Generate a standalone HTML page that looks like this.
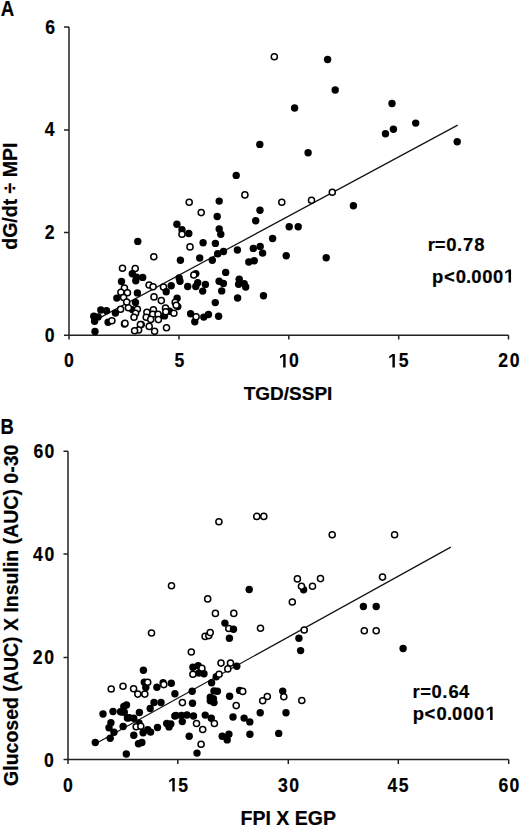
<!DOCTYPE html>
<html><head><meta charset="utf-8"><title>Figure</title><style>
html,body{margin:0;padding:0;background:#fff;}
svg{display:block;}
text{font-family:"Liberation Sans",sans-serif;font-weight:bold;fill:#000;stroke:#000;stroke-width:0.2px;}
</style></head><body>
<svg width="520" height="830" viewBox="0 0 520 830">
<rect width="520" height="830" fill="#fff"/>
<!-- Panel A -->
<text transform="translate(0.8,15.5) scale(0.83,1)" font-size="22.5">A</text>
<g stroke="#222" stroke-width="1.5" fill="none">
<path d="M69 27 V335.2 H508.5"/>
<path d="M64 27 H69 M64 130 H69 M64 232.6 H69 M64 335.2 H69"/>
<path d="M69 335.2 V339.6 M179 335.2 V339.6 M288.8 335.2 V339.6 M398.7 335.2 V339.6 M508.5 335.2 V339.6"/>
</g>
<text x="288" y="400.3" font-size="19" text-anchor="middle">TGD/SSPI</text>
<text transform="translate(17,196.2) rotate(-90)" font-size="19.5" text-anchor="middle">dG/dt ÷ MPI</text>
<path d="M95 320.4 L457.7 125.1" stroke="#111" stroke-width="1.2" fill="none"/>
<g fill="#000">
<circle cx="327.6" cy="59.5" r="3.7"/>
<circle cx="274.3" cy="56.8" r="3.05" fill="#fff" stroke="#000" stroke-width="1.5"/>
<circle cx="335.2" cy="90" r="3.7"/>
<circle cx="294.6" cy="108" r="3.7"/>
<circle cx="392" cy="103.5" r="3.7"/>
<circle cx="415.7" cy="123.1" r="3.7"/>
<circle cx="393.4" cy="129.2" r="3.7"/>
<circle cx="385.5" cy="133.8" r="3.7"/>
<circle cx="457.2" cy="141.8" r="3.7"/>
<circle cx="259.8" cy="144.4" r="3.7"/>
<circle cx="308.1" cy="152.7" r="3.7"/>
<circle cx="236.2" cy="175.4" r="3.7"/>
<circle cx="332.3" cy="192.3" r="3.05" fill="#fff" stroke="#000" stroke-width="1.5"/>
<circle cx="311.5" cy="200.3" r="3.05" fill="#fff" stroke="#000" stroke-width="1.5"/>
<circle cx="353.4" cy="205.7" r="3.7"/>
<circle cx="244.9" cy="194.9" r="3.05" fill="#fff" stroke="#000" stroke-width="1.5"/>
<circle cx="189.2" cy="202.3" r="3.05" fill="#fff" stroke="#000" stroke-width="1.5"/>
<circle cx="219.2" cy="201.1" r="3.7"/>
<circle cx="201.2" cy="212.6" r="3.05" fill="#fff" stroke="#000" stroke-width="1.5"/>
<circle cx="217.2" cy="216.5" r="3.7"/>
<circle cx="176.9" cy="224.2" r="3.7"/>
<circle cx="182" cy="229.7" r="3.7"/>
<circle cx="188.8" cy="233.5" r="3.7"/>
<circle cx="182" cy="234.3" r="3.05" fill="#fff" stroke="#000" stroke-width="1.5"/>
<circle cx="219.2" cy="228.9" r="3.7"/>
<circle cx="220.8" cy="234.3" r="3.7"/>
<circle cx="203.1" cy="242.8" r="3.7"/>
<circle cx="215.4" cy="243.4" r="3.7"/>
<circle cx="190" cy="246.9" r="3.05" fill="#fff" stroke="#000" stroke-width="1.5"/>
<circle cx="281.8" cy="202.3" r="3.05" fill="#fff" stroke="#000" stroke-width="1.5"/>
<circle cx="260" cy="210.3" r="3.7"/>
<circle cx="255.7" cy="220.8" r="3.7"/>
<circle cx="289.2" cy="226.8" r="3.7"/>
<circle cx="298.2" cy="226.8" r="3.7"/>
<circle cx="272.6" cy="238.5" r="3.7"/>
<circle cx="253.3" cy="248.4" r="3.7"/>
<circle cx="260.2" cy="246.5" r="3.7"/>
<circle cx="262.6" cy="253.1" r="3.7"/>
<circle cx="286.2" cy="255.7" r="3.7"/>
<circle cx="326.2" cy="257.7" r="3.7"/>
<circle cx="248.8" cy="262" r="3.7"/>
<circle cx="254.2" cy="260.8" r="3.7"/>
<circle cx="263.5" cy="295.7" r="3.7"/>
<circle cx="217.7" cy="253.8" r="3.7"/>
<circle cx="223.5" cy="251.5" r="3.7"/>
<circle cx="237.4" cy="250" r="3.7"/>
<circle cx="199.7" cy="258" r="3.7"/>
<circle cx="212.3" cy="260.3" r="3.7"/>
<circle cx="180.4" cy="260.2" r="3.7"/>
<circle cx="225.7" cy="272.4" r="3.7"/>
<circle cx="195.8" cy="273.6" r="3.7"/>
<circle cx="193.8" cy="275" r="3.05" fill="#fff" stroke="#000" stroke-width="1.5"/>
<circle cx="179.2" cy="278" r="3.7"/>
<circle cx="180" cy="281.2" r="3.7"/>
<circle cx="187.7" cy="286.5" r="3.7"/>
<circle cx="197.7" cy="282.7" r="3.7"/>
<circle cx="195.8" cy="286.5" r="3.7"/>
<circle cx="205.4" cy="284.4" r="3.7"/>
<circle cx="202.7" cy="291.1" r="3.7"/>
<circle cx="219.1" cy="281.2" r="3.7"/>
<circle cx="223.4" cy="283.4" r="3.7"/>
<circle cx="221.7" cy="290.9" r="3.7"/>
<circle cx="239.2" cy="279.3" r="3.7"/>
<circle cx="238.6" cy="284.3" r="3.7"/>
<circle cx="244.2" cy="283.6" r="3.7"/>
<circle cx="245.7" cy="287" r="3.7"/>
<circle cx="237.6" cy="298" r="3.7"/>
<circle cx="215.3" cy="302.6" r="3.7"/>
<circle cx="137.8" cy="241.4" r="3.7"/>
<circle cx="153.8" cy="256.8" r="3.05" fill="#fff" stroke="#000" stroke-width="1.5"/>
<circle cx="122.5" cy="268.3" r="3.05" fill="#fff" stroke="#000" stroke-width="1.5"/>
<circle cx="135.2" cy="268.5" r="3.05" fill="#fff" stroke="#000" stroke-width="1.5"/>
<circle cx="132.3" cy="273.7" r="3.7"/>
<circle cx="136.5" cy="277.3" r="3.7"/>
<circle cx="142.7" cy="277.4" r="3.7"/>
<circle cx="135.8" cy="280.8" r="3.7"/>
<circle cx="121.5" cy="281.5" r="3.7"/>
<circle cx="116.8" cy="298.1" r="3.7"/>
<circle cx="137.4" cy="292.9" r="3.7"/>
<circle cx="135.5" cy="302.4" r="3.7"/>
<circle cx="124.4" cy="288" r="3.05" fill="#fff" stroke="#000" stroke-width="1.5"/>
<circle cx="120.9" cy="292.2" r="3.05" fill="#fff" stroke="#000" stroke-width="1.5"/>
<circle cx="127.4" cy="292.8" r="3.05" fill="#fff" stroke="#000" stroke-width="1.5"/>
<circle cx="123.6" cy="297.5" r="3.05" fill="#fff" stroke="#000" stroke-width="1.5"/>
<circle cx="126.7" cy="302.1" r="3.05" fill="#fff" stroke="#000" stroke-width="1.5"/>
<circle cx="132.4" cy="309.6" r="3.7"/>
<circle cx="120.6" cy="309.2" r="3.05" fill="#fff" stroke="#000" stroke-width="1.5"/>
<circle cx="128.4" cy="307.8" r="3.05" fill="#fff" stroke="#000" stroke-width="1.5"/>
<circle cx="137.4" cy="309.2" r="3.05" fill="#fff" stroke="#000" stroke-width="1.5"/>
<circle cx="135.6" cy="313.2" r="3.05" fill="#fff" stroke="#000" stroke-width="1.5"/>
<circle cx="134" cy="317.2" r="3.05" fill="#fff" stroke="#000" stroke-width="1.5"/>
<circle cx="149.1" cy="285" r="3.05" fill="#fff" stroke="#000" stroke-width="1.5"/>
<circle cx="153.1" cy="286.8" r="3.05" fill="#fff" stroke="#000" stroke-width="1.5"/>
<circle cx="163.5" cy="287.1" r="3.05" fill="#fff" stroke="#000" stroke-width="1.5"/>
<circle cx="171.2" cy="285.8" r="3.7"/>
<circle cx="166.2" cy="291.7" r="3.7"/>
<circle cx="154" cy="296.9" r="3.05" fill="#fff" stroke="#000" stroke-width="1.5"/>
<circle cx="161.3" cy="300.6" r="3.05" fill="#fff" stroke="#000" stroke-width="1.5"/>
<circle cx="177.1" cy="298.2" r="3.7"/>
<circle cx="175.2" cy="302.3" r="3.05" fill="#fff" stroke="#000" stroke-width="1.5"/>
<circle cx="177.8" cy="306.6" r="3.7"/>
<circle cx="176.2" cy="305.3" r="3.05" fill="#fff" stroke="#000" stroke-width="1.5"/>
<circle cx="169.5" cy="311.2" r="3.7"/>
<circle cx="164.5" cy="315.9" r="3.7"/>
<circle cx="153.4" cy="309.8" r="3.05" fill="#fff" stroke="#000" stroke-width="1.5"/>
<circle cx="165.5" cy="308.1" r="3.05" fill="#fff" stroke="#000" stroke-width="1.5"/>
<circle cx="165.8" cy="311.8" r="3.05" fill="#fff" stroke="#000" stroke-width="1.5"/>
<circle cx="173.9" cy="313.2" r="3.05" fill="#fff" stroke="#000" stroke-width="1.5"/>
<circle cx="146.9" cy="312.2" r="3.05" fill="#fff" stroke="#000" stroke-width="1.5"/>
<circle cx="152.7" cy="314.2" r="3.05" fill="#fff" stroke="#000" stroke-width="1.5"/>
<circle cx="158.1" cy="314.2" r="3.05" fill="#fff" stroke="#000" stroke-width="1.5"/>
<circle cx="146.2" cy="317.3" r="3.05" fill="#fff" stroke="#000" stroke-width="1.5"/>
<circle cx="150.7" cy="319.4" r="3.05" fill="#fff" stroke="#000" stroke-width="1.5"/>
<circle cx="158.4" cy="319.6" r="3.05" fill="#fff" stroke="#000" stroke-width="1.5"/>
<circle cx="141.2" cy="324.6" r="3.05" fill="#fff" stroke="#000" stroke-width="1.5"/>
<circle cx="149.2" cy="326.4" r="3.05" fill="#fff" stroke="#000" stroke-width="1.5"/>
<circle cx="154.6" cy="331.2" r="3.05" fill="#fff" stroke="#000" stroke-width="1.5"/>
<circle cx="166.5" cy="327.7" r="3.05" fill="#fff" stroke="#000" stroke-width="1.5"/>
<circle cx="124.4" cy="324" r="3.7"/>
<circle cx="125" cy="323.4" r="3.05" fill="#fff" stroke="#000" stroke-width="1.5"/>
<circle cx="140.4" cy="324.6" r="3.05" fill="#fff" stroke="#000" stroke-width="1.5"/>
<circle cx="138.6" cy="330" r="3.05" fill="#fff" stroke="#000" stroke-width="1.5"/>
<circle cx="134.6" cy="330.8" r="3.05" fill="#fff" stroke="#000" stroke-width="1.5"/>
<circle cx="95" cy="331.5" r="3.7"/>
<circle cx="93.8" cy="316.2" r="3.7"/>
<circle cx="94.6" cy="321.2" r="3.7"/>
<circle cx="98.1" cy="316.9" r="3.7"/>
<circle cx="100.8" cy="310" r="3.7"/>
<circle cx="106.5" cy="310.8" r="3.7"/>
<circle cx="115.4" cy="313.1" r="3.7"/>
<circle cx="108.1" cy="322.3" r="3.7"/>
<circle cx="111.9" cy="320.8" r="3.05" fill="#fff" stroke="#000" stroke-width="1.5"/>
<circle cx="190.6" cy="313.7" r="3.7"/>
<circle cx="194.8" cy="321.7" r="3.7"/>
<circle cx="196.1" cy="316.8" r="3.05" fill="#fff" stroke="#000" stroke-width="1.5"/>
<circle cx="203.8" cy="317.1" r="3.7"/>
<circle cx="208.5" cy="314.5" r="3.7"/>
<circle cx="218.6" cy="316.3" r="3.7"/>
</g>

<!-- Panel B -->
<text transform="translate(0.6,433.8) scale(0.84,1)" font-size="22">B</text>
<g stroke="#222" stroke-width="1.5" fill="none">
<path d="M68 451.3 V759.5 H508.7"/>
<path d="M63.5 451.3 H68 M63.5 554 H68 M63.5 657.4 H68 M63.5 759.5 H68"/>
<path d="M68 759.5 V764 M177.8 759.5 V764 M288.3 759.5 V764 M398.3 759.5 V764 M508.7 759.5 V764"/>
</g>
<text x="288.3" y="825.2" font-size="19.5" text-anchor="middle">FPI X EGP</text>
<text transform="translate(18.2,615.3) rotate(-90)" font-size="19.5" text-anchor="middle">Glucosed (AUC) X Insulin (AUC) 0-30</text>
<path d="M95 743.9 L450.8 547.1" stroke="#111" stroke-width="1.2" fill="none"/>
<g fill="#000">
<circle cx="332.2" cy="534.8" r="3.05" fill="#fff" stroke="#000" stroke-width="1.5"/>
<circle cx="394.6" cy="534.8" r="3.05" fill="#fff" stroke="#000" stroke-width="1.5"/>
<circle cx="320.5" cy="578.6" r="3.05" fill="#fff" stroke="#000" stroke-width="1.5"/>
<circle cx="312.5" cy="586.3" r="3.05" fill="#fff" stroke="#000" stroke-width="1.5"/>
<circle cx="382.5" cy="577.1" r="3.05" fill="#fff" stroke="#000" stroke-width="1.5"/>
<circle cx="363.4" cy="606.5" r="3.7"/>
<circle cx="376.2" cy="606.5" r="3.7"/>
<circle cx="364.3" cy="630.8" r="3.05" fill="#fff" stroke="#000" stroke-width="1.5"/>
<circle cx="376.2" cy="630.8" r="3.05" fill="#fff" stroke="#000" stroke-width="1.5"/>
<circle cx="403.1" cy="648.5" r="3.7"/>
<circle cx="218.9" cy="521.8" r="3.05" fill="#fff" stroke="#000" stroke-width="1.5"/>
<circle cx="256.8" cy="516.4" r="3.05" fill="#fff" stroke="#000" stroke-width="1.5"/>
<circle cx="263.8" cy="516.4" r="3.05" fill="#fff" stroke="#000" stroke-width="1.5"/>
<circle cx="171.5" cy="585.7" r="3.05" fill="#fff" stroke="#000" stroke-width="1.5"/>
<circle cx="207.7" cy="598.9" r="3.05" fill="#fff" stroke="#000" stroke-width="1.5"/>
<circle cx="215.4" cy="613.4" r="3.05" fill="#fff" stroke="#000" stroke-width="1.5"/>
<circle cx="233.8" cy="613.4" r="3.05" fill="#fff" stroke="#000" stroke-width="1.5"/>
<circle cx="224.9" cy="623.1" r="3.7"/>
<circle cx="228.8" cy="628.5" r="3.05" fill="#fff" stroke="#000" stroke-width="1.5"/>
<circle cx="233.5" cy="629.2" r="3.7"/>
<circle cx="249.2" cy="589.5" r="3.7"/>
<circle cx="297.4" cy="578.9" r="3.05" fill="#fff" stroke="#000" stroke-width="1.5"/>
<circle cx="303.6" cy="589.7" r="3.7"/>
<circle cx="301.5" cy="586.2" r="3.05" fill="#fff" stroke="#000" stroke-width="1.5"/>
<circle cx="292.3" cy="602" r="3.05" fill="#fff" stroke="#000" stroke-width="1.5"/>
<circle cx="260.5" cy="628.2" r="3.05" fill="#fff" stroke="#000" stroke-width="1.5"/>
<circle cx="304.2" cy="630" r="3.05" fill="#fff" stroke="#000" stroke-width="1.5"/>
<circle cx="151.5" cy="633" r="3.05" fill="#fff" stroke="#000" stroke-width="1.5"/>
<circle cx="143.4" cy="670.3" r="3.7"/>
<circle cx="111.2" cy="689" r="3.05" fill="#fff" stroke="#000" stroke-width="1.5"/>
<circle cx="123" cy="686.3" r="3.05" fill="#fff" stroke="#000" stroke-width="1.5"/>
<circle cx="133.6" cy="688.7" r="3.05" fill="#fff" stroke="#000" stroke-width="1.5"/>
<circle cx="137.8" cy="694.1" r="3.05" fill="#fff" stroke="#000" stroke-width="1.5"/>
<circle cx="144.8" cy="694.1" r="3.05" fill="#fff" stroke="#000" stroke-width="1.5"/>
<circle cx="144.3" cy="682.3" r="3.7"/>
<circle cx="145.8" cy="687.4" r="3.7"/>
<circle cx="147.7" cy="682.3" r="3.05" fill="#fff" stroke="#000" stroke-width="1.5"/>
<circle cx="156.9" cy="687.2" r="3.7"/>
<circle cx="163.1" cy="682.8" r="3.7"/>
<circle cx="163.8" cy="684.6" r="3.05" fill="#fff" stroke="#000" stroke-width="1.5"/>
<circle cx="171.3" cy="683.3" r="3.7"/>
<circle cx="174.9" cy="693.8" r="3.7"/>
<circle cx="154" cy="702.5" r="3.7"/>
<circle cx="161" cy="702.5" r="3.7"/>
<circle cx="150.2" cy="708.5" r="3.7"/>
<circle cx="126.5" cy="705" r="3.7"/>
<circle cx="123.8" cy="706.5" r="3.7"/>
<circle cx="122.3" cy="711.9" r="3.7"/>
<circle cx="139.4" cy="712.5" r="3.7"/>
<circle cx="129.2" cy="717.7" r="3.7"/>
<circle cx="133.8" cy="718.3" r="3.7"/>
<circle cx="103" cy="714" r="3.7"/>
<circle cx="113" cy="711.5" r="3.7"/>
<circle cx="120.5" cy="711.7" r="3.7"/>
<circle cx="124.3" cy="712.3" r="3.7"/>
<circle cx="127.4" cy="718" r="3.7"/>
<circle cx="110.9" cy="722.7" r="3.7"/>
<circle cx="109" cy="727.7" r="3.7"/>
<circle cx="114" cy="732.2" r="3.7"/>
<circle cx="110.2" cy="738.3" r="3.7"/>
<circle cx="123.1" cy="726.5" r="3.7"/>
<circle cx="95.3" cy="742.5" r="3.7"/>
<circle cx="139" cy="722.9" r="3.7"/>
<circle cx="136.2" cy="726.7" r="3.05" fill="#fff" stroke="#000" stroke-width="1.5"/>
<circle cx="140.8" cy="726.3" r="3.05" fill="#fff" stroke="#000" stroke-width="1.5"/>
<circle cx="133.8" cy="735.3" r="3.7"/>
<circle cx="143.1" cy="732.7" r="3.7"/>
<circle cx="147.7" cy="729.8" r="3.7"/>
<circle cx="150.6" cy="732.1" r="3.7"/>
<circle cx="157.5" cy="727.5" r="3.7"/>
<circle cx="166.7" cy="723.5" r="3.7"/>
<circle cx="169" cy="726.9" r="3.7"/>
<circle cx="170.8" cy="724" r="3.7"/>
<circle cx="174.8" cy="716" r="3.7"/>
<circle cx="205.1" cy="636.4" r="3.05" fill="#fff" stroke="#000" stroke-width="1.5"/>
<circle cx="208.8" cy="635.6" r="3.05" fill="#fff" stroke="#000" stroke-width="1.5"/>
<circle cx="210.2" cy="632.6" r="3.05" fill="#fff" stroke="#000" stroke-width="1.5"/>
<circle cx="229.4" cy="638.2" r="3.7"/>
<circle cx="191.3" cy="652" r="3.05" fill="#fff" stroke="#000" stroke-width="1.5"/>
<circle cx="192.9" cy="667.3" r="3.7"/>
<circle cx="198.2" cy="665.7" r="3.7"/>
<circle cx="201.9" cy="668.4" r="3.05" fill="#fff" stroke="#000" stroke-width="1.5"/>
<circle cx="198.7" cy="673.1" r="3.7"/>
<circle cx="204" cy="673.7" r="3.7"/>
<circle cx="192.9" cy="674.2" r="3.05" fill="#fff" stroke="#000" stroke-width="1.5"/>
<circle cx="221" cy="663.1" r="3.05" fill="#fff" stroke="#000" stroke-width="1.5"/>
<circle cx="230.5" cy="663.1" r="3.05" fill="#fff" stroke="#000" stroke-width="1.5"/>
<circle cx="236.8" cy="666.2" r="3.7"/>
<circle cx="227.8" cy="668.9" r="3.05" fill="#fff" stroke="#000" stroke-width="1.5"/>
<circle cx="216.2" cy="676.8" r="3.7"/>
<circle cx="219.1" cy="674.2" r="3.05" fill="#fff" stroke="#000" stroke-width="1.5"/>
<circle cx="298.9" cy="638.2" r="3.7"/>
<circle cx="300.6" cy="650.6" r="3.7"/>
<circle cx="282.7" cy="691.1" r="3.7"/>
<circle cx="283.8" cy="696.8" r="3.05" fill="#fff" stroke="#000" stroke-width="1.5"/>
<circle cx="267.3" cy="696.5" r="3.05" fill="#fff" stroke="#000" stroke-width="1.5"/>
<circle cx="262.7" cy="700.7" r="3.05" fill="#fff" stroke="#000" stroke-width="1.5"/>
<circle cx="301.8" cy="700.5" r="3.05" fill="#fff" stroke="#000" stroke-width="1.5"/>
<circle cx="260.2" cy="712.8" r="3.7"/>
<circle cx="286" cy="712.8" r="3.7"/>
<circle cx="244.1" cy="718.1" r="3.7"/>
<circle cx="249.8" cy="721.9" r="3.7"/>
<circle cx="249.9" cy="734.3" r="3.7"/>
<circle cx="278.7" cy="733.4" r="3.7"/>
<circle cx="211.6" cy="682.8" r="3.7"/>
<circle cx="192.2" cy="691.2" r="3.7"/>
<circle cx="182.4" cy="702.6" r="3.05" fill="#fff" stroke="#000" stroke-width="1.5"/>
<circle cx="192.5" cy="703.3" r="3.7"/>
<circle cx="214" cy="690.9" r="3.7"/>
<circle cx="217.4" cy="691.2" r="3.7"/>
<circle cx="210.3" cy="697.2" r="3.7"/>
<circle cx="213.4" cy="698.6" r="3.7"/>
<circle cx="210.3" cy="700.8" r="3.7"/>
<circle cx="214" cy="702.6" r="3.7"/>
<circle cx="229.6" cy="696.3" r="3.7"/>
<circle cx="239.6" cy="690.4" r="3.7"/>
<circle cx="242.7" cy="691.4" r="3.05" fill="#fff" stroke="#000" stroke-width="1.5"/>
<circle cx="236.2" cy="705.6" r="3.05" fill="#fff" stroke="#000" stroke-width="1.5"/>
<circle cx="176" cy="715.5" r="3.7"/>
<circle cx="181.5" cy="715.5" r="3.7"/>
<circle cx="187" cy="715" r="3.7"/>
<circle cx="193.5" cy="716" r="3.7"/>
<circle cx="182.3" cy="721.6" r="3.7"/>
<circle cx="205.2" cy="715.1" r="3.7"/>
<circle cx="211.3" cy="718.2" r="3.7"/>
<circle cx="233" cy="717" r="3.7"/>
<circle cx="196.5" cy="723.5" r="3.05" fill="#fff" stroke="#000" stroke-width="1.5"/>
<circle cx="214.4" cy="723.5" r="3.05" fill="#fff" stroke="#000" stroke-width="1.5"/>
<circle cx="202.7" cy="729.5" r="3.05" fill="#fff" stroke="#000" stroke-width="1.5"/>
<circle cx="189.2" cy="736.2" r="3.7"/>
<circle cx="201.1" cy="744.3" r="3.05" fill="#fff" stroke="#000" stroke-width="1.5"/>
<circle cx="197" cy="753.1" r="3.7"/>
<circle cx="222.2" cy="736.2" r="3.7"/>
<circle cx="228.9" cy="734.2" r="3.7"/>
<circle cx="227.2" cy="739.9" r="3.7"/>
<circle cx="138.5" cy="743.7" r="3.7"/>
<circle cx="141.9" cy="742.5" r="3.7"/>
<circle cx="126.3" cy="754" r="3.7"/>
</g>

<!-- tick labels and statistics -->
<g fill="#000" stroke="#000" stroke-width="0.2">
<text transform="translate(0,33.6) scale(0.9,1)" x="50.21" y="0" font-size="19.6">6</text>
<text transform="translate(0,136.4) scale(0.9,1)" x="49.79" y="0" font-size="19.6">4</text>
<text transform="translate(0,239.3) scale(0.9,1)" x="49.82" y="0" font-size="19.6">2</text>
<text transform="translate(0,341.9) scale(0.9,1)" x="49.79" y="0" font-size="19.6">0</text>
<text transform="translate(0,367.4) scale(0.9,1)" x="71.01" y="0" font-size="19.6">0</text>
<text transform="translate(0,367.4) scale(0.9,1)" x="193.85" y="0" font-size="19.6">5</text>
<text transform="translate(0,367.4) scale(0.9,1)" x="310.08 321.12" y="0" font-size="19.6"><tspan style="fill:none;stroke:none">1</tspan>0</text><path transform="translate(279.07,367.4) scale(0.00861,-0.00957)" d="M478 0L478 1170L105 940L105 1170L493 1409L759 1409L759 0Z"/>
<text transform="translate(0,367.4) scale(0.9,1)" x="431.47 443.19" y="0" font-size="19.6"><tspan style="fill:none;stroke:none">1</tspan>5</text><path transform="translate(388.32,367.4) scale(0.00861,-0.00957)" d="M478 0L478 1170L105 940L105 1170L493 1409L759 1409L759 0Z"/>
<text transform="translate(0,367.4) scale(0.9,1)" x="553.49 566.34" y="0" font-size="19.6">20</text>
<text transform="translate(0,457.9) scale(0.9,1)" x="37.32 49.56" y="0" font-size="19.6">60</text>
<text transform="translate(0,560.5) scale(0.9,1)" x="36.57 49.45" y="0" font-size="19.6">40</text>
<text transform="translate(0,663.9) scale(0.9,1)" x="36.38 49.23" y="0" font-size="19.6">20</text>
<text transform="translate(0,766.6) scale(0.9,1)" x="48.84" y="0" font-size="19.6">0</text>
<text transform="translate(0,791.5) scale(0.9,1)" x="70.12" y="0" font-size="19.6">0</text>
<text transform="translate(0,791.5) scale(0.9,1)" x="186.91 198.13" y="0" font-size="19.6"><tspan style="fill:none;stroke:none">1</tspan>5</text><path transform="translate(168.22,791.5) scale(0.00861,-0.00957)" d="M478 0L478 1170L105 940L105 1170L493 1409L759 1409L759 0Z"/>
<text transform="translate(0,791.5) scale(0.9,1)" x="308.85 321.29" y="0" font-size="19.6">30</text>
<text transform="translate(0,791.5) scale(0.9,1)" x="430.68 442.97" y="0" font-size="19.6">45</text>
<text transform="translate(0,791.5) scale(0.9,1)" x="553.88 566.01" y="0" font-size="19.6">60</text>
<text transform="translate(0,251.2) scale(0.96,1)" x="445.57 452.93 464.83 476.09 482.22 493.92" y="0" font-size="19.2">r=0.78</text>
<text transform="translate(0,282.6) scale(0.96,1)" x="449.99 462.45 474.73 485.47 490.87 502.33 513.48 525.24" y="0" font-size="19.2">p&lt;0.000<tspan style="fill:none;stroke:none">1</tspan></text><path transform="translate(504.23,282.6) scale(0.00900,-0.00937)" d="M478 0L478 1170L105 940L105 1170L493 1409L759 1409L759 0Z"/>
<text transform="translate(0,697.9) scale(0.96,1)" x="429.73 437.83 449.52 460.68 467.26 478.06" y="0" font-size="19.2">r=0.64</text>
<text transform="translate(0,719.9) scale(0.96,1)" x="429.99 442.24 454.78 465.68 470.72 482.18 493.84 506.02" y="0" font-size="19.2">p&lt;0.000<tspan style="fill:none;stroke:none">1</tspan></text><path transform="translate(485.78,719.9) scale(0.00900,-0.00937)" d="M478 0L478 1170L105 940L105 1170L493 1409L759 1409L759 0Z"/>
</g>
</svg>
</body></html>
